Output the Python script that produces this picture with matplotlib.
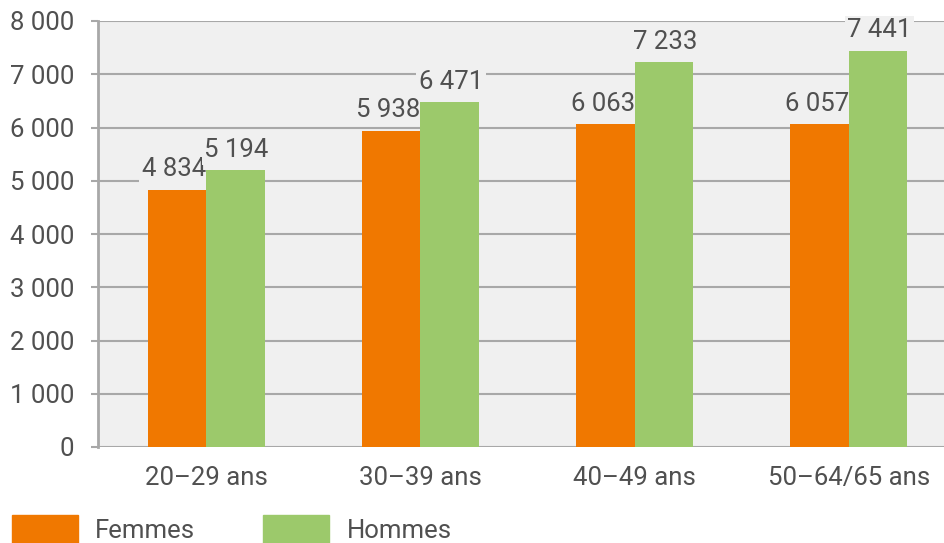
import matplotlib.pyplot as plt
import numpy as np
from matplotlib.patches import Rectangle

plt.rcParams['font.family'] = ['Roboto', 'DejaVu Sans']

groups = ["20–29 ans", "30–39 ans", "40–49 ans", "50–64/65 ans"]
femmes = [4834, 5938, 6063, 6057]
hommes = [5194, 6471, 7233, 7441]
yticks = [0, 1000, 2000, 3000, 4000, 5000, 6000, 7000, 8000]

orange = "#f07800"
green = "#9cc96b"
txt = "#505050"
bg = "#f0f0f0"
fs = 18.5

def fmt(v):
    return f"{v:,}".replace(",", " ")

fig = plt.figure(figsize=(9.45, 5.43), dpi=100)
ax = fig.add_axes([98/945, 96/543, 847/945, 426/543])
ax.set_facecolor(bg)

x = np.arange(len(groups))
w = 0.273
b1 = ax.bar(x - w/2, femmes, w, color=orange, zorder=3)
b2 = ax.bar(x + w/2, hommes, w, color=green, zorder=3)

# value labels sit behind the bars but hide the grid lines
for bars, vals, dx in ((b1, femmes, -2), (b2, hommes, 1)):
    for r, v in zip(bars, vals):
        ax.annotate(fmt(v), (r.get_x() + r.get_width()/2, v), xytext=(dx, 6),
                    textcoords="offset points", ha="center", va="bottom",
                    fontsize=fs, color=txt, zorder=2.5,
                    bbox=dict(boxstyle="square,pad=0.1", fc=bg, ec="none"))

ax.set_xlim(-0.504, 3.448)
ax.set_ylim(0, 8000)
ax.set_yticks(yticks)
ax.set_yticklabels([fmt(v) for v in yticks])
ax.set_xticks(x)
ax.set_xticklabels(groups)
ax.grid(axis="y", color="#a8a8a8", linewidth=1.5, zorder=1)
for s in ["top", "right", "bottom"]:
    ax.spines[s].set_visible(False)
ax.spines["left"].set_color("#a8a8a8")
ax.spines["left"].set_linewidth(2)
ax.tick_params(axis="y", length=5, width=1.5, color="#a8a8a8", pad=12,
               labelsize=fs, labelcolor=txt)
ax.tick_params(axis="x", length=0, pad=14, labelsize=fs, labelcolor=txt)

# legend
fig.patches.append(Rectangle((12/945, 0), 66/945, 28/543, transform=fig.transFigure,
                             color=orange))
fig.patches.append(Rectangle((263/945, 0), 66/945, 28/543, transform=fig.transFigure,
                             color=green))
fig.text(95/945, 12/543, "Femmes", fontsize=fs, color=txt, va="center")
fig.text(347/945, 12/543, "Hommes", fontsize=fs, color=txt, va="center")

fig.savefig("out.png", dpi=100)
